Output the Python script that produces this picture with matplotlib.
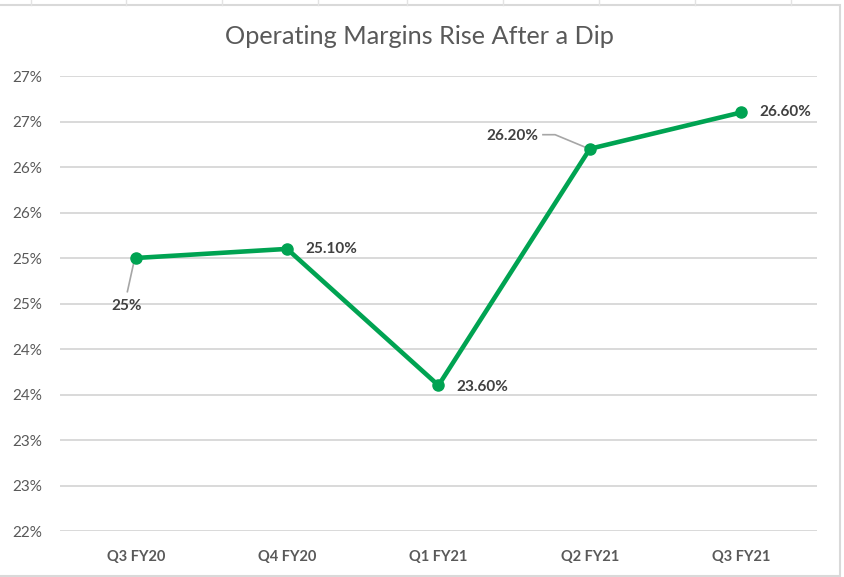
import matplotlib
matplotlib.use("Agg")
import matplotlib.pyplot as plt
from matplotlib.patches import Rectangle
from matplotlib.lines import Line2D

quarters = ["Q3 FY20", "Q4 FY20", "Q1 FY21", "Q2 FY21", "Q3 FY21"]
margins = [25.0, 25.1, 23.6, 26.2, 26.6]
point_labels = ["25%", "25.10%", "23.60%", "26.20%", "26.60%"]
y_ticks = [22.0, 22.5, 23.0, 23.5, 24.0, 24.5, 25.0, 25.5, 26.0, 26.5, 27.0]
y_tick_labels = ["22%", "23%", "23%", "24%", "24%", "25%", "25%", "26%", "26%", "27%", "27%"]

green = "#00A352"
label_color = "#404040"
grid_color = "#D9D9D9"

plt.rcParams['font.family'] = ['Lato', 'DejaVu Sans']

fig = plt.figure(figsize=(8.44, 5.77), dpi=100)
W, H = 844, 577
PT = 72 / 100  # pixels -> points
# plot area in pixels: x 60..817, y 76..531
ax = fig.add_axes([60 / W, 1 - 531 / H, (817 - 60) / W, (531 - 76) / H])

# spreadsheet cell lines peeking above the chart + chart border
for cx in [31, 126, 222, 318, 407, 503, 599, 695, 791]:
	fig.add_artist(Line2D([cx / W, cx / W], [1, 1 - 5 / H], color="#E3E3E3", lw=1, transform=fig.transFigure))
fig.add_artist(Rectangle((-0.01, 1 / H), 840 / W + 0.01, 1 - 6 / H, transform=fig.transFigure,
	fill=False, edgecolor="#D9D9D9", lw=1.5))

x = list(range(len(quarters)))
ax.plot(x, margins, color=green, lw=3.3, marker="o", markersize=8, zorder=3, solid_capstyle="round")

ax.set_xlim(-0.5, len(quarters) - 0.5)
ax.set_ylim(22.0, 27.0)
ax.set_yticks(y_ticks)
ax.set_yticklabels(y_tick_labels, fontsize=11, color="#595959")
ax.set_xticks(x)
ax.set_xticklabels(quarters, fontsize=10.5, color="#595959", fontweight="bold")
ax.tick_params(axis="both", length=0)
ax.tick_params(axis="y", pad=13)
ax.tick_params(axis="x", pad=14)
ax.grid(axis="y", color=grid_color, lw=1.4)
ax.set_axisbelow(True)
for s in ax.spines.values():
	s.set_visible(False)

# data labels (offsets measured in pixels)
lbl = dict(fontsize=11, fontweight="bold", color=label_color)
ax.annotate(point_labels[0], (x[0], margins[0]), xytext=(-9 * PT, -48 * PT), textcoords="offset points",
	ha="center", va="center", **lbl)
ax.plot([x[0] - 0.01, x[0] - 0.055], [margins[0] - 0.03, margins[0] - 0.37], color="#A6A6A6", lw=1.2, zorder=2)
ax.annotate(point_labels[1], (x[1], margins[1]), xytext=(18 * PT, 0), textcoords="offset points",
	ha="left", va="center", **lbl)
ax.annotate(point_labels[2], (x[2], margins[2]), xytext=(18 * PT, -1), textcoords="offset points",
	ha="left", va="center", **lbl)
ax.annotate(point_labels[3], (x[3], margins[3]), xytext=(-78 * PT, 13 * PT), textcoords="offset points",
	ha="center", va="center", **lbl)
ax.plot([x[3] - 0.31, x[3] - 0.23, x[3] - 0.02], [margins[3] + 0.155, margins[3] + 0.155, margins[3] + 0.01],
	color="#A6A6A6", lw=1.2, zorder=2)
ax.annotate(point_labels[4], (x[4], margins[4]), xytext=(18 * PT, 0), textcoords="offset points",
	ha="left", va="center", **lbl)

fig.text(419 / W, 1 - 37 / H, "Operating Margins Rise After a Dip", ha="center", va="center",
	fontsize=18.2, color="#595959", fontweight="normal")

fig.savefig("out.png", dpi=100)
